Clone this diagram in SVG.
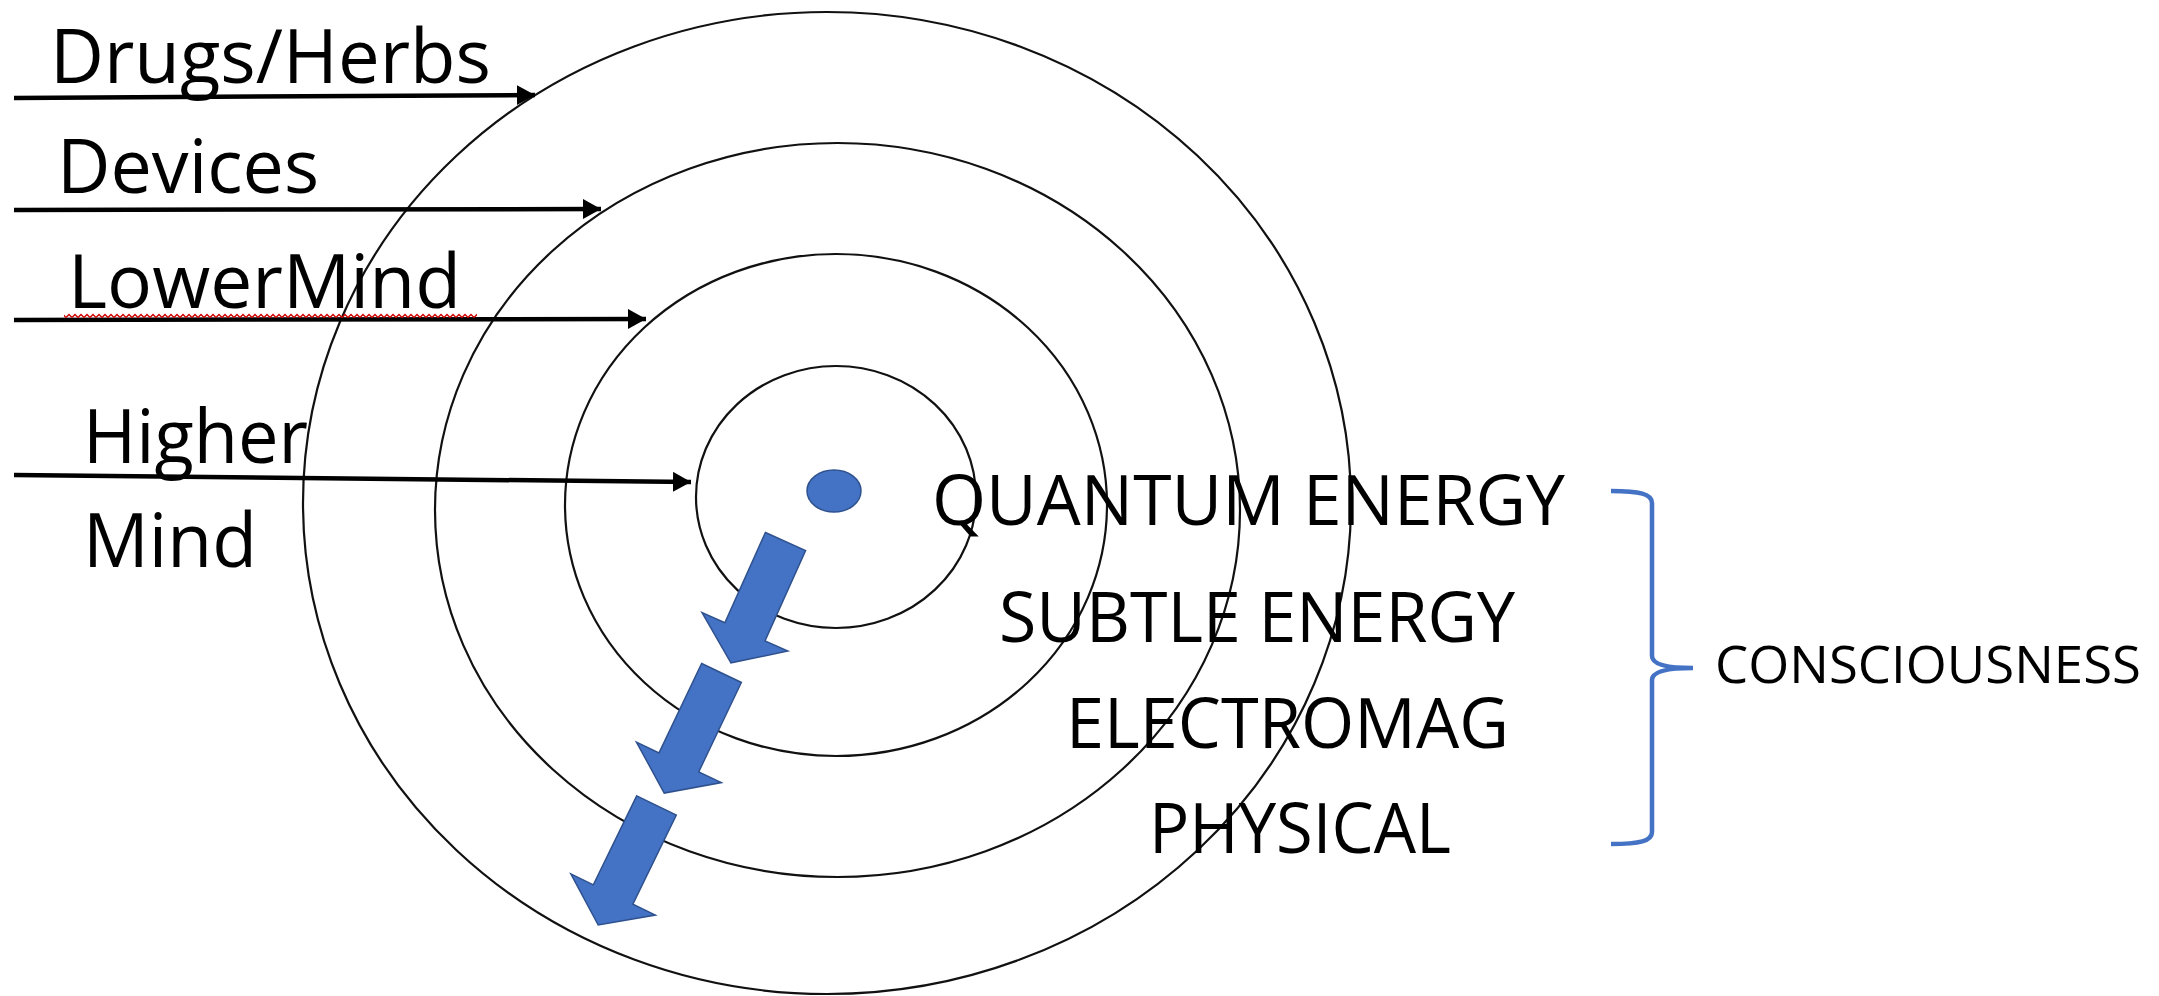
<svg xmlns="http://www.w3.org/2000/svg" width="2159" height="996" viewBox="0 0 2159 996">
<style>
.ring{fill:none;stroke:#111;stroke-width:2.2}
.lbl{font-family:"Open Sans","Noto Sans","Liberation Sans",sans-serif;fill:#000}
.big{font-size:75px}
.mid{font-size:69px}
.sm{font-size:52px}
.conn{stroke:#000;stroke-width:4.5;fill:none}
.blk{fill:#4472C4;stroke:#2F528F;stroke-width:1.5}
</style>
<defs>
<marker id="ah" markerUnits="userSpaceOnUse" markerWidth="20" markerHeight="22" refX="18" refY="10" orient="auto">
<path d="M0,0 L18,10 L0,20 Z" fill="#000"/>
</marker>
<pattern id="squig" patternUnits="userSpaceOnUse" width="6" height="6" x="0" y="313">
<path d="M0,4.5 L3,1.5 L6,4.5" fill="none" stroke="#d00000" stroke-width="1.4"/>
</pattern>
<path id="barrow" d="M-22,0 L22,0 L22,99 L47,99 L0,133 L-47,99 L-22,99 Z"/>
</defs>
<rect width="2159" height="996" fill="#fff"/>
<g id="rings">
<ellipse id="ring-outer" class="ring" cx="827" cy="503" rx="524" ry="491"/>
<ellipse id="ring-2" class="ring" cx="837.5" cy="510" rx="402.5" ry="367"/>
<ellipse id="ring-3" class="ring" cx="836" cy="505" rx="271" ry="251"/>
<ellipse id="ring-inner" class="ring" cx="836" cy="497" rx="140" ry="131"/>
</g>
<g id="core"><ellipse cx="834" cy="491" rx="27" ry="21" fill="#4472C4" stroke="#2F528F" stroke-width="1.5"/></g>
<g id="connectors">
<path class="conn" d="M14,98 L535,95" marker-end="url(#ah)"/>
<path class="conn" d="M14,210 L601,209" marker-end="url(#ah)"/>
<path class="conn" d="M14,320 L646,319" marker-end="url(#ah)"/>
<path class="conn" d="M14,475 L691,482" marker-end="url(#ah)"/>
</g>
<g id="left-labels">
<g id="lbl-drugs"><text class="lbl big" x="50" y="83" textLength="441" lengthAdjust="spacingAndGlyphs">Drugs/Herbs</text></g>
<g id="lbl-devices"><text class="lbl big" x="57" y="193" textLength="262" lengthAdjust="spacingAndGlyphs">Devices</text></g>
<g id="lbl-lowermind"><text class="lbl big" x="68" y="308" textLength="393" lengthAdjust="spacingAndGlyphs">LowerMind</text>
<rect x="64" y="313" width="413" height="6" fill="url(#squig)"/></g>
<g id="lbl-higher"><text class="lbl big" x="83" y="463" textLength="225" lengthAdjust="spacingAndGlyphs">Higher</text>
<text class="lbl big" x="83" y="567" textLength="174" lengthAdjust="spacingAndGlyphs">Mind</text></g>
</g>
<g id="flow-arrows">
<use href="#barrow" class="blk" transform="translate(785.5,541.5) rotate(24.2)"/>
<use href="#barrow" class="blk" transform="translate(721.5,673) rotate(25.5)"/>
<use href="#barrow" class="blk" transform="translate(656.5,805.5) rotate(26)"/>
</g>
<g id="levels">
<text class="lbl mid" x="932" y="525" textLength="633" lengthAdjust="spacingAndGlyphs">QUANTUM ENERGY</text>
<text class="lbl mid" x="999" y="642" textLength="516" lengthAdjust="spacingAndGlyphs">SUBTLE ENERGY</text>
<text class="lbl mid" x="1066" y="748" textLength="443" lengthAdjust="spacingAndGlyphs">ELECTROMAG</text>
<text class="lbl mid" x="1149" y="853" textLength="302" lengthAdjust="spacingAndGlyphs">PHYSICAL</text>
</g>
<g id="brace">
<path d="M1611,491 C1640,491 1652,494 1652,503 L1652,656 C1652,664 1665,668 1693,668 C1665,668 1652,672 1652,680 L1652,832 C1652,841 1640,844 1611,844" fill="none" stroke="#4472C4" stroke-width="4.5"/>
</g>
<g id="consciousness">
<text class="lbl sm" x="1715" y="683" textLength="426" lengthAdjust="spacingAndGlyphs">CONSCIOUSNESS</text>
</g>
</svg>
